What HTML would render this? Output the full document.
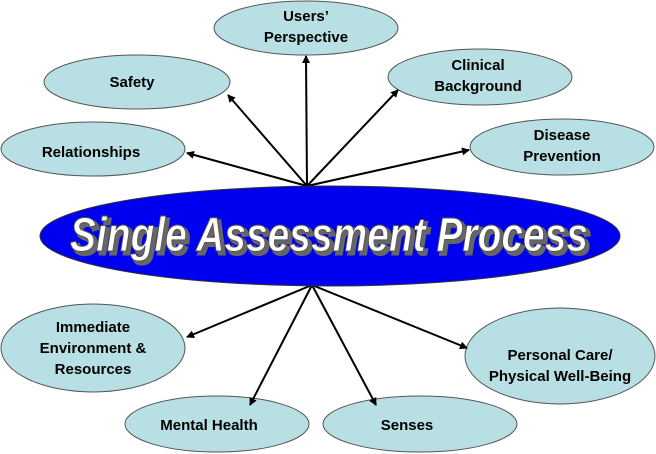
<!DOCTYPE html>
<html><head><style>body{margin:0;background:#fff}svg{display:block}</style></head><body>
<svg width="656" height="454" xmlns="http://www.w3.org/2000/svg" font-family="Liberation Sans, Arial, sans-serif">
<defs><marker id="a" markerWidth="8" markerHeight="8" refX="7" refY="4" orient="auto" markerUnits="userSpaceOnUse"><path d="M0,0 L8,4 L0,8 z" fill="#000"/></marker></defs>
<g fill="#b8e0e4" stroke="#555" stroke-width="1">
<ellipse cx="306" cy="28" rx="92" ry="27"/>
<ellipse cx="137" cy="82" rx="93" ry="27"/>
<ellipse cx="93" cy="149" rx="92" ry="27"/>
<ellipse cx="480" cy="77" rx="92" ry="28"/>
<ellipse cx="562" cy="147" rx="92" ry="28"/>
<ellipse cx="93" cy="348" rx="92" ry="44"/>
<ellipse cx="560" cy="356" rx="95" ry="48"/>
<ellipse cx="217" cy="424" rx="92" ry="28"/>
<ellipse cx="420" cy="424" rx="97" ry="28"/>
</g>
<g stroke="#000" stroke-width="2" marker-end="url(#a)">
<line x1="307" y1="186" x2="306" y2="56"/>
<line x1="307" y1="186" x2="228" y2="95"/>
<line x1="307" y1="186" x2="187" y2="153"/>
<line x1="307" y1="186" x2="398" y2="90"/>
<line x1="307" y1="186" x2="469" y2="150"/>
<line x1="312" y1="285" x2="187" y2="337"/>
<line x1="312" y1="285" x2="250" y2="405"/>
<line x1="312" y1="285" x2="376" y2="405"/>
<line x1="312" y1="285" x2="467" y2="348"/>
</g>
<ellipse cx="330" cy="236" rx="290" ry="50" fill="#0000f0" stroke="#333" stroke-width="1"/>
<text x="332" y="254" text-anchor="middle" font-size="48" font-weight="bold" font-style="italic" textLength="518" lengthAdjust="spacingAndGlyphs" fill="#666" stroke="#666" stroke-width="3">Single Assessment Process</text>
<text x="329" y="251" text-anchor="middle" font-size="48" font-weight="bold" font-style="italic" textLength="518" lengthAdjust="spacingAndGlyphs" fill="#fff" stroke="#555" stroke-width="1">Single Assessment Process</text>
<g font-size="15" font-weight="bold" fill="#000" text-anchor="middle">
<text x="306" y="21">Users’</text><text x="306" y="42">Perspective</text>
<text x="132" y="87">Safety</text>
<text x="91" y="157">Relationships</text>
<text x="478" y="70">Clinical</text><text x="478" y="91">Background</text>
<text x="562" y="140">Disease</text><text x="562" y="161">Prevention</text>
<text x="93" y="332">Immediate</text><text x="93" y="353">Environment &amp;</text><text x="93" y="374">Resources</text>
<text x="560" y="360">Personal Care/</text><text x="560" y="381">Physical Well-Being</text>
<text x="209" y="430">Mental Health</text>
<text x="407" y="430">Senses</text>
</g>
</svg>
</body></html>
